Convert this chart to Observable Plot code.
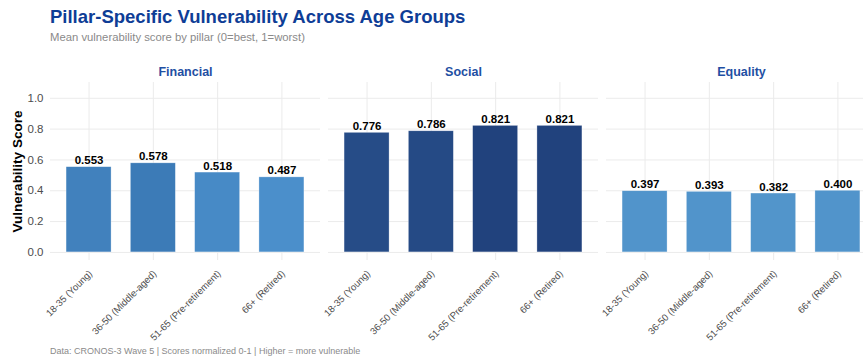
<!DOCTYPE html>
<html>
<head>
<meta charset="utf-8">
<script src="https://cdn.jsdelivr.net/npm/d3@7"></script>
<script src="https://cdn.jsdelivr.net/npm/@observablehq/plot@0.6"></script>
<style>
html, body { margin: 0; padding: 0; background: #fff; overflow: hidden; width: 863px; height: 363px; }
#wrap { position: relative; width: 880px; height: 363px; font-family: "Liberation Sans", Arial, sans-serif; }
.title { position: absolute; left: 50px; top: 7px; font-size: 18.5px; line-height: 20px; font-weight: bold; color: #0e3d96; white-space: nowrap; }
.subtitle { position: absolute; left: 50px; top: 31px; font-size: 11.3px; line-height: 13px; color: #8a8a8a; white-space: nowrap; }
.caption { position: absolute; left: 50px; top: 346px; font-size: 9px; line-height: 11px; color: #8a8a8a; white-space: nowrap; }
#chart { position: absolute; left: 0; top: 50px; }
</style>
</head>
<body>
<div id="wrap">
  <div class="title">Pillar-Specific Vulnerability Across Age Groups</div>
  <div class="subtitle">Mean vulnerability score by pillar (0=best, 1=worst)</div>
  <div id="chart"></div>
  <div class="caption">Data: CRONOS-3 Wave 5 | Scores normalized 0-1 | Higher = more vulnerable</div>
</div>
<script>
const pillars = ["Financial", "Social", "Equality"];
const ages = ["18-35 (Young)", "36-50 (Middle-aged)", "51-65 (Pre-retirement)", "66+ (Retired)"];
const financial = [0.553, 0.578, 0.518, 0.487];
const social = [0.776, 0.786, 0.821, 0.821];
const equality = [0.397, 0.393, 0.382, 0.400];
const yTicks = [0, 0.2, 0.4, 0.6, 0.8, 1.0];
const yLabel = "Vulnerability Score";

const series = [financial, social, equality];
const data = [];
pillars.forEach((p, i) => ages.forEach((a, j) => data.push({pillar: p, age: a, value: series[i][j]})));

const fmt = d3.format(".3f");
const grid = "#ebebeb";

const chart = Plot.plot({
  width: 880,
  height: 295,
  marginLeft: 50,
  marginRight: 4,
  marginTop: 32,
  marginBottom: 85,
  style: {fontFamily: "'Liberation Sans', Arial, sans-serif", background: "transparent", overflow: "visible"},
  fx: {domain: pillars, paddingInner: 8 / 278, paddingOuter: 0, round: false, axis: null},
  x: {domain: ages, paddingInner: 0.3, paddingOuter: 0.25, round: false, axis: null},
  y: {domain: [-0.0525, 1.1025], axis: null},
  color: {type: "linear", domain: [0.38, 0.50, 0.58, 0.82], range: ["#5295cb", "#4a8ecb", "#3c7ab6", "#21427d"]},
  marks: [
    Plot.gridY(yTicks, {stroke: grid, strokeOpacity: 1, strokeWidth: 1}),
    Plot.gridX({stroke: grid, strokeOpacity: 1, strokeWidth: 1}),
    Plot.barY(data, {fx: "pillar", x: "age", y: "value", fill: "value", stroke: "white", strokeWidth: 0.6, strokeOpacity: 0.5}),
    Plot.text(data, {fx: "pillar", x: "age", y: "value", text: d => fmt(d.value), lineAnchor: "bottom", dy: -3, fontWeight: "bold", fontSize: 11.5, fill: "black"}),
    Plot.axisFx({anchor: "top", tickSize: 0, tickPadding: 7, label: null, fontWeight: "bold", fontSize: 12.5, fill: "#1f4fa3"}),
    Plot.axisX({tickRotate: -45, tickSize: 0, tickPadding: 11.5, dx: 1.5, label: null, fontSize: 9.6, fill: "#4d4d4d"}),
    Plot.axisY(yTicks, {tickSize: 0, tickPadding: 7, tickFormat: ".1f", label: null, fontSize: 11.5, fill: "#4d4d4d"}),
    Plot.text([{pillar: pillars[0]}], {fx: "pillar", text: () => yLabel, frameAnchor: "left", textAnchor: "middle", rotate: -90, dx: -33, fontWeight: "bold", fontSize: 13.5, fill: "black"})
  ]
});
document.getElementById("chart").appendChild(chart);
</script>
</body>
</html>
